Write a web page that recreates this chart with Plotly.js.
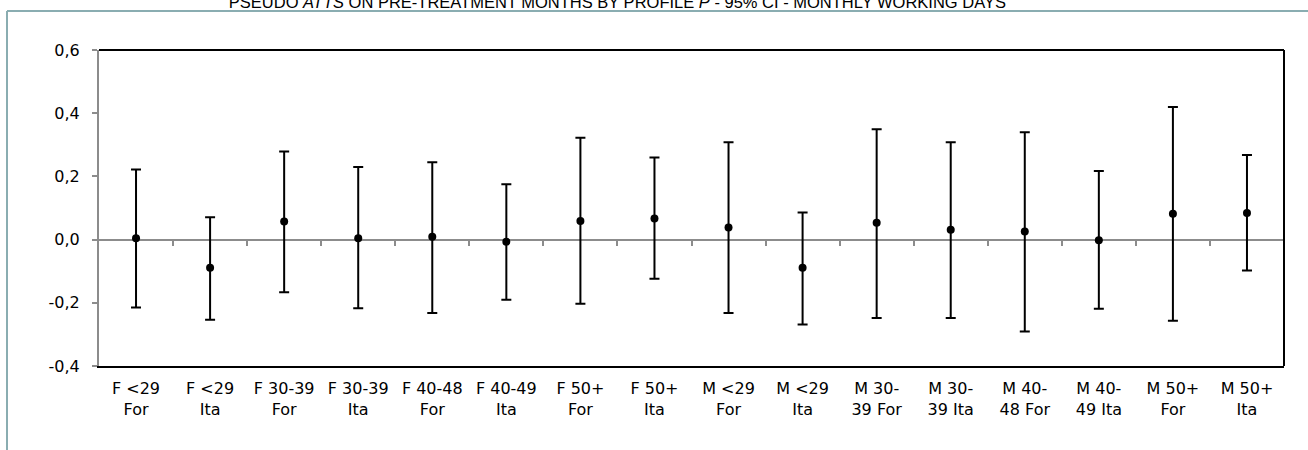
<!DOCTYPE html>
<html>
<head>
<meta charset="utf-8">
<script src="https://cdn.plot.ly/plotly-3.0.1.min.js"></script>
<style>
  html, body { margin: 0; padding: 0; background: #ffffff; }
  #chart { width: 1308px; height: 450px; }
</style>
</head>
<body>
<div id="chart"></div>
<script>
// ---- data ----
const categories = [
  "F <29<br>For", "F <29<br>Ita", "F 30-39<br>For", "F 30-39<br>Ita",
  "F 40-48<br>For", "F 40-49<br>Ita", "F 50+<br>For", "F 50+<br>Ita",
  "M <29<br>For", "M <29<br>Ita", "M 30-<br>39 For", "M 30-<br>39 Ita",
  "M 40-<br>48 For", "M 40-<br>49 Ita", "M 50+<br>For", "M 50+<br>Ita"
];
const estimate = [0.004, -0.089, 0.057, 0.004, 0.009, -0.007, 0.059, 0.067,
                  0.038, -0.089, 0.053, 0.031, 0.026, -0.002, 0.082, 0.084];
const upperCI  = [0.222, 0.071, 0.279, 0.230, 0.245, 0.175, 0.322, 0.260,
                  0.308, 0.086, 0.349, 0.308, 0.340, 0.217, 0.420, 0.268];
const lowerCI  = [-0.215, -0.254, -0.167, -0.217, -0.232, -0.190, -0.203, -0.124,
                  -0.232, -0.269, -0.248, -0.248, -0.291, -0.219, -0.257, -0.098];
const yTickVals = [-0.4, -0.2, 0.0, 0.2, 0.4, 0.6];
const yTickText = ["-0,4", "-0,2", "0,0", "0,2", "0,4", "0,6"];
const titleText = "PSEUDO <i>ATTS</i> ON PRE-TREATMENT MONTHS BY PROFILE <i>P</i> - 95% CI - MONTHLY WORKING DAYS";

// ---- derived ----
const idx = categories.map((_, i) => i);
const errPlus = upperCI.map((u, i) => u - estimate[i]);
const errMinus = lowerCI.map((l, i) => estimate[i] - l);
const boundaries = idx.slice(1).map(i => i - 0.5);

const tickFont = { family: "DejaVu Sans, Verdana, sans-serif", size: 16, color: "#000000" };
const frameColor = "#8aadb1";

const traces = [
  {
    type: "scatter",
    mode: "markers",
    x: idx,
    y: estimate,
    marker: { color: "#000000", size: 8 },
    error_y: {
      type: "data",
      symmetric: false,
      array: errPlus,
      arrayminus: errMinus,
      color: "#000000",
      thickness: 2,
      width: 5
    },
    hoverinfo: "skip",
    showlegend: false,
    cliponaxis: false
  },
  {
    // carrier for the category-boundary tick marks on the zero line
    type: "scatter",
    mode: "markers",
    x: idx,
    y: estimate,
    xaxis: "x2",
    yaxis: "y",
    marker: { opacity: 0, size: 1 },
    hoverinfo: "skip",
    showlegend: false
  }
];

const layout = {
  width: 1308,
  height: 450,
  margin: { l: 99, r: 24, t: 50, b: 84, pad: 0 },
  paper_bgcolor: "#ffffff",
  plot_bgcolor: "#ffffff",
  title: {
    text: titleText,
    font: { family: "Liberation Sans, Arial, sans-serif", size: 16.5, color: "#000000" },
    x: 0.472,
    xanchor: "center",
    xref: "container",
    yref: "container",
    y: 0.994,
    yanchor: "middle"
  },
  xaxis: {
    range: [-0.5, 15.5],
    tickvals: idx,
    ticktext: categories,
    ticks: "",
    showline: true,
    linecolor: "#000000",
    linewidth: 2,
    showgrid: false,
    zeroline: false,
    tickfont: tickFont,
    ticklabelstandoff: 7,
    fixedrange: true
  },
  xaxis2: {
    overlaying: "x",
    anchor: "free",
    position: 0.4,
    range: [-0.5, 15.5],
    tickvals: boundaries,
    ticks: "outside",
    ticklen: 5,
    tickwidth: 2,
    tickcolor: "#8c8c8c",
    showticklabels: false,
    showline: false,
    showgrid: false,
    zeroline: false,
    fixedrange: true
  },
  yaxis: {
    range: [-0.4, 0.6],
    tickvals: yTickVals,
    ticktext: yTickText,
    ticks: "outside",
    ticklen: 5,
    tickwidth: 2,
    tickcolor: "#8c8c8c",
    showline: true,
    linecolor: "#8c8c8c",
    linewidth: 2,
    showgrid: false,
    zeroline: true,
    zerolinecolor: "#8c8c8c",
    zerolinewidth: 2,
    tickfont: tickFont,
    ticklabelstandoff: 9,
    fixedrange: true
  },
  shapes: [
    // top and right plot border (black)
    { type: "line", xref: "paper", yref: "paper", x0: 0, x1: 1, y0: 1, y1: 1,
      line: { color: "#000000", width: 2 } },
    { type: "line", xref: "paper", yref: "paper", x0: 1, x1: 1, y0: 0, y1: 1,
      line: { color: "#000000", width: 2 } },
    // outer chart frame (top and left edges visible)
    { type: "line", xref: "paper", yref: "paper",
      x0: (7 - 99) / 1185, x1: (1308 - 99) / 1185,
      y0: 1 + 39 / 316, y1: 1 + 39 / 316,
      line: { color: frameColor, width: 2 } },
    { type: "line", xref: "paper", yref: "paper",
      x0: (7 - 99) / 1185, x1: (7 - 99) / 1185,
      y0: 1 + 39 / 316, y1: -90 / 316,
      line: { color: frameColor, width: 2 } }
  ]
};

Plotly.newPlot("chart", traces, layout, { displayModeBar: false, staticPlot: true });
</script>
</body>
</html>
